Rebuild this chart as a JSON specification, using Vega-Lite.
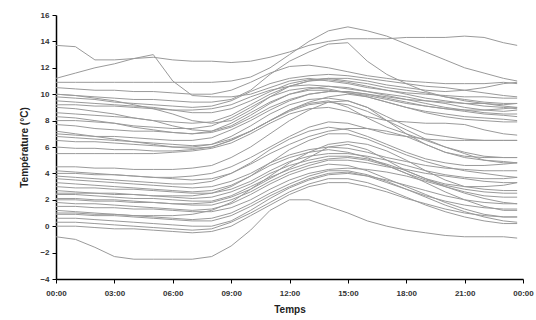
{
"$schema": "https://vega.github.io/schema/vega-lite/v6.json",
"width": 467, "height": 264,
"autosize": {"type": "none"},
"padding": {"left": 56, "top": 15, "right": 13, "bottom": 41},
"background": "white",
"config": {"view": {"stroke": null}},
"data": {"values": [
{"s":1,"t":0,"v":13.7},{"s":1,"t":1,"v":13.6},{"s":1,"t":2,"v":12.6},{"s":1,"t":3,"v":12.6},{"s":1,"t":4,"v":12.7},{"s":1,"t":5,"v":12.8},{"s":1,"t":6,"v":12.6},{"s":1,"t":7,"v":12.5},{"s":1,"t":8,"v":12.5},{"s":1,"t":9,"v":12.4},{"s":1,"t":10,"v":12.5},{"s":1,"t":11,"v":12.8},{"s":1,"t":12,"v":13.2},{"s":1,"t":13,"v":13.7},{"s":1,"t":14,"v":14.0},{"s":1,"t":15,"v":14.2},{"s":1,"t":16,"v":14.2},{"s":1,"t":17,"v":14.2},{"s":1,"t":18,"v":14.3},{"s":1,"t":19,"v":14.3},{"s":1,"t":20,"v":14.3},{"s":1,"t":21,"v":14.4},{"s":1,"t":22,"v":14.3},{"s":1,"t":23,"v":13.9},{"s":1,"t":23.7,"v":13.7},
{"s":2,"t":0,"v":11.2},{"s":2,"t":1,"v":11.6},{"s":2,"t":2,"v":12.0},{"s":2,"t":3,"v":12.3},{"s":2,"t":4,"v":12.7},{"s":2,"t":5,"v":13.0},{"s":2,"t":6,"v":11.0},{"s":2,"t":7,"v":9.9},{"s":2,"t":8,"v":9.8},{"s":2,"t":9,"v":9.8},{"s":2,"t":10,"v":10.0},{"s":2,"t":11,"v":10.5},{"s":2,"t":12,"v":11.0},{"s":2,"t":13,"v":11.2},{"s":2,"t":14,"v":11.0},{"s":2,"t":15,"v":10.8},{"s":2,"t":16,"v":10.5},{"s":2,"t":17,"v":10.3},{"s":2,"t":18,"v":10.1},{"s":2,"t":19,"v":10.0},{"s":2,"t":20,"v":9.9},{"s":2,"t":21,"v":9.8},{"s":2,"t":22,"v":9.8},{"s":2,"t":23,"v":9.7},{"s":2,"t":23.7,"v":9.7},
{"s":3,"t":0,"v":10.9},{"s":3,"t":1,"v":10.9},{"s":3,"t":2,"v":10.9},{"s":3,"t":3,"v":10.9},{"s":3,"t":4,"v":10.9},{"s":3,"t":5,"v":10.9},{"s":3,"t":6,"v":10.9},{"s":3,"t":7,"v":10.9},{"s":3,"t":8,"v":10.9},{"s":3,"t":9,"v":11.0},{"s":3,"t":10,"v":11.3},{"s":3,"t":11,"v":12.0},{"s":3,"t":12,"v":13.0},{"s":3,"t":13,"v":14.0},{"s":3,"t":14,"v":14.8},{"s":3,"t":15,"v":15.1},{"s":3,"t":16,"v":14.8},{"s":3,"t":17,"v":14.4},{"s":3,"t":18,"v":13.8},{"s":3,"t":19,"v":13.2},{"s":3,"t":20,"v":12.6},{"s":3,"t":21,"v":12.0},{"s":3,"t":22,"v":11.6},{"s":3,"t":23,"v":11.2},{"s":3,"t":23.7,"v":11.0},
{"s":4,"t":0,"v":10.0},{"s":4,"t":1,"v":9.9},{"s":4,"t":2,"v":9.8},{"s":4,"t":3,"v":9.7},{"s":4,"t":4,"v":9.6},{"s":4,"t":5,"v":9.6},{"s":4,"t":6,"v":9.5},{"s":4,"t":7,"v":9.4},{"s":4,"t":8,"v":9.4},{"s":4,"t":9,"v":9.6},{"s":4,"t":10,"v":10.3},{"s":4,"t":11,"v":11.5},{"s":4,"t":12,"v":12.5},{"s":4,"t":13,"v":13.2},{"s":4,"t":14,"v":13.8},{"s":4,"t":15,"v":13.9},{"s":4,"t":16,"v":12.5},{"s":4,"t":17,"v":11.5},{"s":4,"t":18,"v":10.8},{"s":4,"t":19,"v":10.2},{"s":4,"t":20,"v":9.8},{"s":4,"t":21,"v":9.5},{"s":4,"t":22,"v":9.3},{"s":4,"t":23,"v":9.1},{"s":4,"t":23.7,"v":9.0},
{"s":5,"t":0,"v":9.8},{"s":5,"t":1,"v":9.7},{"s":5,"t":2,"v":9.6},{"s":5,"t":3,"v":9.4},{"s":5,"t":4,"v":9.3},{"s":5,"t":5,"v":9.2},{"s":5,"t":6,"v":9.1},{"s":5,"t":7,"v":9.0},{"s":5,"t":8,"v":9.1},{"s":5,"t":9,"v":9.5},{"s":5,"t":10,"v":10.2},{"s":5,"t":11,"v":10.8},{"s":5,"t":12,"v":11.2},{"s":5,"t":13,"v":11.4},{"s":5,"t":14,"v":11.5},{"s":5,"t":15,"v":11.4},{"s":5,"t":16,"v":11.2},{"s":5,"t":17,"v":11.0},{"s":5,"t":18,"v":10.8},{"s":5,"t":19,"v":10.6},{"s":5,"t":20,"v":10.5},{"s":5,"t":21,"v":10.3},{"s":5,"t":22,"v":10.1},{"s":5,"t":23,"v":9.9},{"s":5,"t":23.7,"v":9.8},
{"s":6,"t":0,"v":9.5},{"s":6,"t":1,"v":9.4},{"s":6,"t":2,"v":9.3},{"s":6,"t":3,"v":9.2},{"s":6,"t":4,"v":9.1},{"s":6,"t":5,"v":9.0},{"s":6,"t":6,"v":8.8},{"s":6,"t":7,"v":8.6},{"s":6,"t":8,"v":8.6},{"s":6,"t":9,"v":8.9},{"s":6,"t":10,"v":9.5},{"s":6,"t":11,"v":10.2},{"s":6,"t":12,"v":10.8},{"s":6,"t":13,"v":11.1},{"s":6,"t":14,"v":11.2},{"s":6,"t":15,"v":11.0},{"s":6,"t":16,"v":10.8},{"s":6,"t":17,"v":10.5},{"s":6,"t":18,"v":10.3},{"s":6,"t":19,"v":10.1},{"s":6,"t":20,"v":9.8},{"s":6,"t":21,"v":9.6},{"s":6,"t":22,"v":9.4},{"s":6,"t":23,"v":9.3},{"s":6,"t":23.7,"v":9.3},
{"s":7,"t":0,"v":9.2},{"s":7,"t":1,"v":9.2},{"s":7,"t":2,"v":9.1},{"s":7,"t":3,"v":9.1},{"s":7,"t":4,"v":9.0},{"s":7,"t":5,"v":8.9},{"s":7,"t":6,"v":8.8},{"s":7,"t":7,"v":8.8},{"s":7,"t":8,"v":8.9},{"s":7,"t":9,"v":9.2},{"s":7,"t":10,"v":9.8},{"s":7,"t":11,"v":10.3},{"s":7,"t":12,"v":10.6},{"s":7,"t":13,"v":10.7},{"s":7,"t":14,"v":10.6},{"s":7,"t":15,"v":10.4},{"s":7,"t":16,"v":10.2},{"s":7,"t":17,"v":10.0},{"s":7,"t":18,"v":9.8},{"s":7,"t":19,"v":9.5},{"s":7,"t":20,"v":9.3},{"s":7,"t":21,"v":9.0},{"s":7,"t":22,"v":8.8},{"s":7,"t":23,"v":8.7},{"s":7,"t":23.7,"v":8.8},
{"s":8,"t":0,"v":8.6},{"s":8,"t":1,"v":8.5},{"s":8,"t":2,"v":8.4},{"s":8,"t":3,"v":8.3},{"s":8,"t":4,"v":8.2},{"s":8,"t":5,"v":8.0},{"s":8,"t":6,"v":7.9},{"s":8,"t":7,"v":7.8},{"s":8,"t":8,"v":7.9},{"s":8,"t":9,"v":8.4},{"s":8,"t":10,"v":9.2},{"s":8,"t":11,"v":10.0},{"s":8,"t":12,"v":10.6},{"s":8,"t":13,"v":11.0},{"s":8,"t":14,"v":11.2},{"s":8,"t":15,"v":11.2},{"s":8,"t":16,"v":11.0},{"s":8,"t":17,"v":10.7},{"s":8,"t":18,"v":10.5},{"s":8,"t":19,"v":10.3},{"s":8,"t":20,"v":10.2},{"s":8,"t":21,"v":10.3},{"s":8,"t":22,"v":10.5},{"s":8,"t":23,"v":10.8},{"s":8,"t":23.7,"v":10.9},
{"s":9,"t":0,"v":8.0},{"s":9,"t":1,"v":8.0},{"s":9,"t":2,"v":7.9},{"s":9,"t":3,"v":7.8},{"s":9,"t":4,"v":7.6},{"s":9,"t":5,"v":7.5},{"s":9,"t":6,"v":7.4},{"s":9,"t":7,"v":7.4},{"s":9,"t":8,"v":7.6},{"s":9,"t":9,"v":8.2},{"s":9,"t":10,"v":9.0},{"s":9,"t":11,"v":9.8},{"s":9,"t":12,"v":10.3},{"s":9,"t":13,"v":10.5},{"s":9,"t":14,"v":10.4},{"s":9,"t":15,"v":10.1},{"s":9,"t":16,"v":9.8},{"s":9,"t":17,"v":9.4},{"s":9,"t":18,"v":9.0},{"s":9,"t":19,"v":8.7},{"s":9,"t":20,"v":8.5},{"s":9,"t":21,"v":8.3},{"s":9,"t":22,"v":8.2},{"s":9,"t":23,"v":8.1},{"s":9,"t":23.7,"v":8.0},
{"s":10,"t":0,"v":7.7},{"s":10,"t":1,"v":7.6},{"s":10,"t":2,"v":7.4},{"s":10,"t":3,"v":7.3},{"s":10,"t":4,"v":7.2},{"s":10,"t":5,"v":7.2},{"s":10,"t":6,"v":7.1},{"s":10,"t":7,"v":7.0},{"s":10,"t":8,"v":7.2},{"s":10,"t":9,"v":7.8},{"s":10,"t":10,"v":8.6},{"s":10,"t":11,"v":9.4},{"s":10,"t":12,"v":10.0},{"s":10,"t":13,"v":10.3},{"s":10,"t":14,"v":10.3},{"s":10,"t":15,"v":10.1},{"s":10,"t":16,"v":9.9},{"s":10,"t":17,"v":9.6},{"s":10,"t":18,"v":9.3},{"s":10,"t":19,"v":9.1},{"s":10,"t":20,"v":8.9},{"s":10,"t":21,"v":8.7},{"s":10,"t":22,"v":8.5},{"s":10,"t":23,"v":8.4},{"s":10,"t":23.7,"v":8.3},
{"s":11,"t":0,"v":7.0},{"s":11,"t":1,"v":6.9},{"s":11,"t":2,"v":6.8},{"s":11,"t":3,"v":6.8},{"s":11,"t":4,"v":6.7},{"s":11,"t":5,"v":6.6},{"s":11,"t":6,"v":6.5},{"s":11,"t":7,"v":6.5},{"s":11,"t":8,"v":6.7},{"s":11,"t":9,"v":7.3},{"s":11,"t":10,"v":8.0},{"s":11,"t":11,"v":8.8},{"s":11,"t":12,"v":9.5},{"s":11,"t":13,"v":10.0},{"s":11,"t":14,"v":10.2},{"s":11,"t":15,"v":10.2},{"s":11,"t":16,"v":10.0},{"s":11,"t":17,"v":9.8},{"s":11,"t":18,"v":9.6},{"s":11,"t":19,"v":9.5},{"s":11,"t":20,"v":9.4},{"s":11,"t":21,"v":9.3},{"s":11,"t":22,"v":9.3},{"s":11,"t":23,"v":9.2},{"s":11,"t":23.7,"v":9.3},
{"s":12,"t":0,"v":6.5},{"s":12,"t":1,"v":6.4},{"s":12,"t":2,"v":6.4},{"s":12,"t":3,"v":6.3},{"s":12,"t":4,"v":6.2},{"s":12,"t":5,"v":6.1},{"s":12,"t":6,"v":6.0},{"s":12,"t":7,"v":6.0},{"s":12,"t":8,"v":6.2},{"s":12,"t":9,"v":6.8},{"s":12,"t":10,"v":7.6},{"s":12,"t":11,"v":8.5},{"s":12,"t":12,"v":9.2},{"s":12,"t":13,"v":9.6},{"s":12,"t":14,"v":9.7},{"s":12,"t":15,"v":9.5},{"s":12,"t":16,"v":9.0},{"s":12,"t":17,"v":8.3},{"s":12,"t":18,"v":7.6},{"s":12,"t":19,"v":7.0},{"s":12,"t":20,"v":6.8},{"s":12,"t":21,"v":6.6},{"s":12,"t":22,"v":6.5},{"s":12,"t":23,"v":6.5},{"s":12,"t":23.7,"v":6.5},
{"s":13,"t":0,"v":6.0},{"s":13,"t":1,"v":5.9},{"s":13,"t":2,"v":5.9},{"s":13,"t":3,"v":5.8},{"s":13,"t":4,"v":5.8},{"s":13,"t":5,"v":5.7},{"s":13,"t":6,"v":5.7},{"s":13,"t":7,"v":5.8},{"s":13,"t":8,"v":6.0},{"s":13,"t":9,"v":6.5},{"s":13,"t":10,"v":7.2},{"s":13,"t":11,"v":8.0},{"s":13,"t":12,"v":8.8},{"s":13,"t":13,"v":9.3},{"s":13,"t":14,"v":9.5},{"s":13,"t":15,"v":9.0},{"s":13,"t":16,"v":8.2},{"s":13,"t":17,"v":7.5},{"s":13,"t":18,"v":7.0},{"s":13,"t":19,"v":6.5},{"s":13,"t":20,"v":6.0},{"s":13,"t":21,"v":5.6},{"s":13,"t":22,"v":5.3},{"s":13,"t":23,"v":5.2},{"s":13,"t":23.7,"v":5.2},
{"s":14,"t":0,"v":5.5},{"s":14,"t":1,"v":5.5},{"s":14,"t":2,"v":5.5},{"s":14,"t":3,"v":5.5},{"s":14,"t":4,"v":5.5},{"s":14,"t":5,"v":5.5},{"s":14,"t":6,"v":5.6},{"s":14,"t":7,"v":5.7},{"s":14,"t":8,"v":5.9},{"s":14,"t":9,"v":6.3},{"s":14,"t":10,"v":7.0},{"s":14,"t":11,"v":7.8},{"s":14,"t":12,"v":8.5},{"s":14,"t":13,"v":8.9},{"s":14,"t":14,"v":9.0},{"s":14,"t":15,"v":8.7},{"s":14,"t":16,"v":8.3},{"s":14,"t":17,"v":8.0},{"s":14,"t":18,"v":7.9},{"s":14,"t":19,"v":7.8},{"s":14,"t":20,"v":7.8},{"s":14,"t":21,"v":7.7},{"s":14,"t":22,"v":7.3},{"s":14,"t":23,"v":7.0},{"s":14,"t":23.7,"v":6.9},
{"s":15,"t":0,"v":10.0},{"s":15,"t":1,"v":9.9},{"s":15,"t":2,"v":9.7},{"s":15,"t":3,"v":9.5},{"s":15,"t":4,"v":9.2},{"s":15,"t":5,"v":8.9},{"s":15,"t":6,"v":8.5},{"s":15,"t":7,"v":8.0},{"s":15,"t":8,"v":7.8},{"s":15,"t":9,"v":8.0},{"s":15,"t":10,"v":8.8},{"s":15,"t":11,"v":9.8},{"s":15,"t":12,"v":10.6},{"s":15,"t":13,"v":11.0},{"s":15,"t":14,"v":11.1},{"s":15,"t":15,"v":10.9},{"s":15,"t":16,"v":10.6},{"s":15,"t":17,"v":10.3},{"s":15,"t":18,"v":10.0},{"s":15,"t":19,"v":9.7},{"s":15,"t":20,"v":9.5},{"s":15,"t":21,"v":9.3},{"s":15,"t":22,"v":9.1},{"s":15,"t":23,"v":9.0},{"s":15,"t":23.7,"v":8.9},
{"s":16,"t":0,"v":9.0},{"s":16,"t":1,"v":8.9},{"s":16,"t":2,"v":8.7},{"s":16,"t":3,"v":8.5},{"s":16,"t":4,"v":8.2},{"s":16,"t":5,"v":8.0},{"s":16,"t":6,"v":7.6},{"s":16,"t":7,"v":7.3},{"s":16,"t":8,"v":7.2},{"s":16,"t":9,"v":7.6},{"s":16,"t":10,"v":8.4},{"s":16,"t":11,"v":9.3},{"s":16,"t":12,"v":10.0},{"s":16,"t":13,"v":10.4},{"s":16,"t":14,"v":10.6},{"s":16,"t":15,"v":10.5},{"s":16,"t":16,"v":10.2},{"s":16,"t":17,"v":9.9},{"s":16,"t":18,"v":9.6},{"s":16,"t":19,"v":9.3},{"s":16,"t":20,"v":9.0},{"s":16,"t":21,"v":8.8},{"s":16,"t":22,"v":8.6},{"s":16,"t":23,"v":8.5},{"s":16,"t":23.7,"v":8.5},
{"s":17,"t":0,"v":8.3},{"s":17,"t":1,"v":8.2},{"s":17,"t":2,"v":8.0},{"s":17,"t":3,"v":7.8},{"s":17,"t":4,"v":7.5},{"s":17,"t":5,"v":7.3},{"s":17,"t":6,"v":7.1},{"s":17,"t":7,"v":7.0},{"s":17,"t":8,"v":7.1},{"s":17,"t":9,"v":7.5},{"s":17,"t":10,"v":8.2},{"s":17,"t":11,"v":9.0},{"s":17,"t":12,"v":9.6},{"s":17,"t":13,"v":10.0},{"s":17,"t":14,"v":10.2},{"s":17,"t":15,"v":10.2},{"s":17,"t":16,"v":10.0},{"s":17,"t":17,"v":9.7},{"s":17,"t":18,"v":9.4},{"s":17,"t":19,"v":9.1},{"s":17,"t":20,"v":8.9},{"s":17,"t":21,"v":8.8},{"s":17,"t":22,"v":8.8},{"s":17,"t":23,"v":8.9},{"s":17,"t":23.7,"v":9.0},
{"s":18,"t":0,"v":10.5},{"s":18,"t":1,"v":10.4},{"s":18,"t":2,"v":10.3},{"s":18,"t":3,"v":10.3},{"s":18,"t":4,"v":10.2},{"s":18,"t":5,"v":10.2},{"s":18,"t":6,"v":10.1},{"s":18,"t":7,"v":10.0},{"s":18,"t":8,"v":10.0},{"s":18,"t":9,"v":10.3},{"s":18,"t":10,"v":10.9},{"s":18,"t":11,"v":11.6},{"s":18,"t":12,"v":12.1},{"s":18,"t":13,"v":12.2},{"s":18,"t":14,"v":12.0},{"s":18,"t":15,"v":11.7},{"s":18,"t":16,"v":11.4},{"s":18,"t":17,"v":11.2},{"s":18,"t":18,"v":11.0},{"s":18,"t":19,"v":10.9},{"s":18,"t":20,"v":10.8},{"s":18,"t":21,"v":10.8},{"s":18,"t":22,"v":10.8},{"s":18,"t":23,"v":10.9},{"s":18,"t":23.7,"v":10.8},
{"s":19,"t":0,"v":4.5},{"s":19,"t":1,"v":4.5},{"s":19,"t":2,"v":4.4},{"s":19,"t":3,"v":4.4},{"s":19,"t":4,"v":4.3},{"s":19,"t":5,"v":4.3},{"s":19,"t":6,"v":4.3},{"s":19,"t":7,"v":4.4},{"s":19,"t":8,"v":4.6},{"s":19,"t":9,"v":5.2},{"s":19,"t":10,"v":6.0},{"s":19,"t":11,"v":7.0},{"s":19,"t":12,"v":8.0},{"s":19,"t":13,"v":8.8},{"s":19,"t":14,"v":9.4},{"s":19,"t":15,"v":9.5},{"s":19,"t":16,"v":9.0},{"s":19,"t":17,"v":8.0},{"s":19,"t":18,"v":7.0},{"s":19,"t":19,"v":6.2},{"s":19,"t":20,"v":5.6},{"s":19,"t":21,"v":5.2},{"s":19,"t":22,"v":5.0},{"s":19,"t":23,"v":4.9},{"s":19,"t":23.7,"v":4.8},
{"s":20,"t":0,"v":4.0},{"s":20,"t":1,"v":4.0},{"s":20,"t":2,"v":3.9},{"s":20,"t":3,"v":3.9},{"s":20,"t":4,"v":3.8},{"s":20,"t":5,"v":3.7},{"s":20,"t":6,"v":3.7},{"s":20,"t":7,"v":3.8},{"s":20,"t":8,"v":4.0},{"s":20,"t":9,"v":4.5},{"s":20,"t":10,"v":5.2},{"s":20,"t":11,"v":6.0},{"s":20,"t":12,"v":6.8},{"s":20,"t":13,"v":7.5},{"s":20,"t":14,"v":7.9},{"s":20,"t":15,"v":7.8},{"s":20,"t":16,"v":7.4},{"s":20,"t":17,"v":7.0},{"s":20,"t":18,"v":6.8},{"s":20,"t":19,"v":6.6},{"s":20,"t":20,"v":6.5},{"s":20,"t":21,"v":6.5},{"s":20,"t":22,"v":6.5},{"s":20,"t":23,"v":6.5},{"s":20,"t":23.7,"v":6.5},
{"s":21,"t":0,"v":3.6},{"s":21,"t":1,"v":3.5},{"s":21,"t":2,"v":3.4},{"s":21,"t":3,"v":3.3},{"s":21,"t":4,"v":3.2},{"s":21,"t":5,"v":3.1},{"s":21,"t":6,"v":3.0},{"s":21,"t":7,"v":2.9},{"s":21,"t":8,"v":3.0},{"s":21,"t":9,"v":3.4},{"s":21,"t":10,"v":4.0},{"s":21,"t":11,"v":4.8},{"s":21,"t":12,"v":5.4},{"s":21,"t":13,"v":5.8},{"s":21,"t":14,"v":6.0},{"s":21,"t":15,"v":5.9},{"s":21,"t":16,"v":5.6},{"s":21,"t":17,"v":5.2},{"s":21,"t":18,"v":4.9},{"s":21,"t":19,"v":4.6},{"s":21,"t":20,"v":4.4},{"s":21,"t":21,"v":4.3},{"s":21,"t":22,"v":4.2},{"s":21,"t":23,"v":4.2},{"s":21,"t":23.7,"v":4.2},
{"s":22,"t":0,"v":3.3},{"s":22,"t":1,"v":3.2},{"s":22,"t":2,"v":3.1},{"s":22,"t":3,"v":3.0},{"s":22,"t":4,"v":2.9},{"s":22,"t":5,"v":2.8},{"s":22,"t":6,"v":2.7},{"s":22,"t":7,"v":2.6},{"s":22,"t":8,"v":2.7},{"s":22,"t":9,"v":3.1},{"s":22,"t":10,"v":3.8},{"s":22,"t":11,"v":4.6},{"s":22,"t":12,"v":5.2},{"s":22,"t":13,"v":5.6},{"s":22,"t":14,"v":5.8},{"s":22,"t":15,"v":5.6},{"s":22,"t":16,"v":5.2},{"s":22,"t":17,"v":4.6},{"s":22,"t":18,"v":4.0},{"s":22,"t":19,"v":3.5},{"s":22,"t":20,"v":3.1},{"s":22,"t":21,"v":2.8},{"s":22,"t":22,"v":2.6},{"s":22,"t":23,"v":2.5},{"s":22,"t":23.7,"v":2.5},
{"s":23,"t":0,"v":3.0},{"s":23,"t":1,"v":2.9},{"s":23,"t":2,"v":2.9},{"s":23,"t":3,"v":2.8},{"s":23,"t":4,"v":2.8},{"s":23,"t":5,"v":2.7},{"s":23,"t":6,"v":2.6},{"s":23,"t":7,"v":2.5},{"s":23,"t":8,"v":2.5},{"s":23,"t":9,"v":2.8},{"s":23,"t":10,"v":3.4},{"s":23,"t":11,"v":4.2},{"s":23,"t":12,"v":4.9},{"s":23,"t":13,"v":5.3},{"s":23,"t":14,"v":5.5},{"s":23,"t":15,"v":5.5},{"s":23,"t":16,"v":5.3},{"s":23,"t":17,"v":5.0},{"s":23,"t":18,"v":4.6},{"s":23,"t":19,"v":4.2},{"s":23,"t":20,"v":3.9},{"s":23,"t":21,"v":3.7},{"s":23,"t":22,"v":3.6},{"s":23,"t":23,"v":3.6},{"s":23,"t":23.7,"v":3.7},
{"s":24,"t":0,"v":2.7},{"s":24,"t":1,"v":2.6},{"s":24,"t":2,"v":2.5},{"s":24,"t":3,"v":2.5},{"s":24,"t":4,"v":2.4},{"s":24,"t":5,"v":2.3},{"s":24,"t":6,"v":2.2},{"s":24,"t":7,"v":2.1},{"s":24,"t":8,"v":2.2},{"s":24,"t":9,"v":2.6},{"s":24,"t":10,"v":3.2},{"s":24,"t":11,"v":4.0},{"s":24,"t":12,"v":4.6},{"s":24,"t":13,"v":5.0},{"s":24,"t":14,"v":5.3},{"s":24,"t":15,"v":5.3},{"s":24,"t":16,"v":5.1},{"s":24,"t":17,"v":4.7},{"s":24,"t":18,"v":4.2},{"s":24,"t":19,"v":3.6},{"s":24,"t":20,"v":3.0},{"s":24,"t":21,"v":2.5},{"s":24,"t":22,"v":2.1},{"s":24,"t":23,"v":1.8},{"s":24,"t":23.7,"v":1.7},
{"s":25,"t":0,"v":2.4},{"s":25,"t":1,"v":2.4},{"s":25,"t":2,"v":2.3},{"s":25,"t":3,"v":2.2},{"s":25,"t":4,"v":2.1},{"s":25,"t":5,"v":2.1},{"s":25,"t":6,"v":2.0},{"s":25,"t":7,"v":1.9},{"s":25,"t":8,"v":1.9},{"s":25,"t":9,"v":2.3},{"s":25,"t":10,"v":3.0},{"s":25,"t":11,"v":3.7},{"s":25,"t":12,"v":4.3},{"s":25,"t":13,"v":4.8},{"s":25,"t":14,"v":5.1},{"s":25,"t":15,"v":5.2},{"s":25,"t":16,"v":5.0},{"s":25,"t":17,"v":4.6},{"s":25,"t":18,"v":4.0},{"s":25,"t":19,"v":3.3},{"s":25,"t":20,"v":2.6},{"s":25,"t":21,"v":2.0},{"s":25,"t":22,"v":1.5},{"s":25,"t":23,"v":1.2},{"s":25,"t":23.7,"v":1.2},
{"s":26,"t":0,"v":2.1},{"s":26,"t":1,"v":2.1},{"s":26,"t":2,"v":2.0},{"s":26,"t":3,"v":2.0},{"s":26,"t":4,"v":1.9},{"s":26,"t":5,"v":1.8},{"s":26,"t":6,"v":1.7},{"s":26,"t":7,"v":1.6},{"s":26,"t":8,"v":1.6},{"s":26,"t":9,"v":2.0},{"s":26,"t":10,"v":2.6},{"s":26,"t":11,"v":3.4},{"s":26,"t":12,"v":4.1},{"s":26,"t":13,"v":4.6},{"s":26,"t":14,"v":5.0},{"s":26,"t":15,"v":5.0},{"s":26,"t":16,"v":4.8},{"s":26,"t":17,"v":4.5},{"s":26,"t":18,"v":4.3},{"s":26,"t":19,"v":4.0},{"s":26,"t":20,"v":3.8},{"s":26,"t":21,"v":3.6},{"s":26,"t":22,"v":3.4},{"s":26,"t":23,"v":3.3},{"s":26,"t":23.7,"v":3.3},
{"s":27,"t":0,"v":1.8},{"s":27,"t":1,"v":1.7},{"s":27,"t":2,"v":1.7},{"s":27,"t":3,"v":1.6},{"s":27,"t":4,"v":1.5},{"s":27,"t":5,"v":1.4},{"s":27,"t":6,"v":1.3},{"s":27,"t":7,"v":1.2},{"s":27,"t":8,"v":1.3},{"s":27,"t":9,"v":1.7},{"s":27,"t":10,"v":2.4},{"s":27,"t":11,"v":3.2},{"s":27,"t":12,"v":3.9},{"s":27,"t":13,"v":4.4},{"s":27,"t":14,"v":4.7},{"s":27,"t":15,"v":4.6},{"s":27,"t":16,"v":4.2},{"s":27,"t":17,"v":3.6},{"s":27,"t":18,"v":3.0},{"s":27,"t":19,"v":2.4},{"s":27,"t":20,"v":1.8},{"s":27,"t":21,"v":1.3},{"s":27,"t":22,"v":0.9},{"s":27,"t":23,"v":0.7},{"s":27,"t":23.7,"v":0.7},
{"s":28,"t":0,"v":1.5},{"s":28,"t":1,"v":1.5},{"s":28,"t":2,"v":1.4},{"s":28,"t":3,"v":1.4},{"s":28,"t":4,"v":1.3},{"s":28,"t":5,"v":1.3},{"s":28,"t":6,"v":1.2},{"s":28,"t":7,"v":1.1},{"s":28,"t":8,"v":1.1},{"s":28,"t":9,"v":1.4},{"s":28,"t":10,"v":2.0},{"s":28,"t":11,"v":2.8},{"s":28,"t":12,"v":3.5},{"s":28,"t":13,"v":4.0},{"s":28,"t":14,"v":4.3},{"s":28,"t":15,"v":4.4},{"s":28,"t":16,"v":4.3},{"s":28,"t":17,"v":4.1},{"s":28,"t":18,"v":3.8},{"s":28,"t":19,"v":3.4},{"s":28,"t":20,"v":3.0},{"s":28,"t":21,"v":2.6},{"s":28,"t":22,"v":2.3},{"s":28,"t":23,"v":2.2},{"s":28,"t":23.7,"v":2.2},
{"s":29,"t":0,"v":1.2},{"s":29,"t":1,"v":1.1},{"s":29,"t":2,"v":1.0},{"s":29,"t":3,"v":0.9},{"s":29,"t":4,"v":0.8},{"s":29,"t":5,"v":0.7},{"s":29,"t":6,"v":0.6},{"s":29,"t":7,"v":0.5},{"s":29,"t":8,"v":0.6},{"s":29,"t":9,"v":1.0},{"s":29,"t":10,"v":1.7},{"s":29,"t":11,"v":2.5},{"s":29,"t":12,"v":3.2},{"s":29,"t":13,"v":3.8},{"s":29,"t":14,"v":4.2},{"s":29,"t":15,"v":4.2},{"s":29,"t":16,"v":3.9},{"s":29,"t":17,"v":3.4},{"s":29,"t":18,"v":2.8},{"s":29,"t":19,"v":2.2},{"s":29,"t":20,"v":1.6},{"s":29,"t":21,"v":1.1},{"s":29,"t":22,"v":0.7},{"s":29,"t":23,"v":0.4},{"s":29,"t":23.7,"v":0.3},
{"s":30,"t":0,"v":0.9},{"s":30,"t":1,"v":0.9},{"s":30,"t":2,"v":0.8},{"s":30,"t":3,"v":0.8},{"s":30,"t":4,"v":0.7},{"s":30,"t":5,"v":0.6},{"s":30,"t":6,"v":0.5},{"s":30,"t":7,"v":0.4},{"s":30,"t":8,"v":0.4},{"s":30,"t":9,"v":0.8},{"s":30,"t":10,"v":1.5},{"s":30,"t":11,"v":2.3},{"s":30,"t":12,"v":3.0},{"s":30,"t":13,"v":3.6},{"s":30,"t":14,"v":4.0},{"s":30,"t":15,"v":4.1},{"s":30,"t":16,"v":3.8},{"s":30,"t":17,"v":3.3},{"s":30,"t":18,"v":2.8},{"s":30,"t":19,"v":2.3},{"s":30,"t":20,"v":1.9},{"s":30,"t":21,"v":1.6},{"s":30,"t":22,"v":1.4},{"s":30,"t":23,"v":1.3},{"s":30,"t":23.7,"v":1.3},
{"s":31,"t":0,"v":0.6},{"s":31,"t":1,"v":0.6},{"s":31,"t":2,"v":0.5},{"s":31,"t":3,"v":0.4},{"s":31,"t":4,"v":0.3},{"s":31,"t":5,"v":0.2},{"s":31,"t":6,"v":0.1},{"s":31,"t":7,"v":0.0},{"s":31,"t":8,"v":0.0},{"s":31,"t":9,"v":0.4},{"s":31,"t":10,"v":1.2},{"s":31,"t":11,"v":2.1},{"s":31,"t":12,"v":2.9},{"s":31,"t":13,"v":3.5},{"s":31,"t":14,"v":3.9},{"s":31,"t":15,"v":4.0},{"s":31,"t":16,"v":3.8},{"s":31,"t":17,"v":3.5},{"s":31,"t":18,"v":3.1},{"s":31,"t":19,"v":2.7},{"s":31,"t":20,"v":2.3},{"s":31,"t":21,"v":2.0},{"s":31,"t":22,"v":1.8},{"s":31,"t":23,"v":1.7},{"s":31,"t":23.7,"v":1.7},
{"s":32,"t":0,"v":0.3},{"s":32,"t":1,"v":0.3},{"s":32,"t":2,"v":0.2},{"s":32,"t":3,"v":0.1},{"s":32,"t":4,"v":0.0},{"s":32,"t":5,"v":-0.1},{"s":32,"t":6,"v":-0.2},{"s":32,"t":7,"v":-0.3},{"s":32,"t":8,"v":-0.2},{"s":32,"t":9,"v":0.3},{"s":32,"t":10,"v":1.0},{"s":32,"t":11,"v":1.8},{"s":32,"t":12,"v":2.6},{"s":32,"t":13,"v":3.2},{"s":32,"t":14,"v":3.6},{"s":32,"t":15,"v":3.6},{"s":32,"t":16,"v":3.3},{"s":32,"t":17,"v":2.8},{"s":32,"t":18,"v":2.2},{"s":32,"t":19,"v":1.6},{"s":32,"t":20,"v":1.1},{"s":32,"t":21,"v":0.7},{"s":32,"t":22,"v":0.4},{"s":32,"t":23,"v":0.2},{"s":32,"t":23.7,"v":0.2},
{"s":33,"t":0,"v":0.0},{"s":33,"t":1,"v":0.0},{"s":33,"t":2,"v":-0.1},{"s":33,"t":3,"v":-0.2},{"s":33,"t":4,"v":-0.2},{"s":33,"t":5,"v":-0.3},{"s":33,"t":6,"v":-0.4},{"s":33,"t":7,"v":-0.5},{"s":33,"t":8,"v":-0.4},{"s":33,"t":9,"v":0.0},{"s":33,"t":10,"v":0.8},{"s":33,"t":11,"v":1.6},{"s":33,"t":12,"v":2.4},{"s":33,"t":13,"v":3.0},{"s":33,"t":14,"v":3.3},{"s":33,"t":15,"v":3.3},{"s":33,"t":16,"v":3.0},{"s":33,"t":17,"v":2.6},{"s":33,"t":18,"v":2.1},{"s":33,"t":19,"v":1.7},{"s":33,"t":20,"v":1.3},{"s":33,"t":21,"v":1.0},{"s":33,"t":22,"v":0.8},{"s":33,"t":23,"v":0.7},{"s":33,"t":23.7,"v":0.7},
{"s":34,"t":0,"v":-0.8},{"s":34,"t":1,"v":-1.0},{"s":34,"t":2,"v":-1.6},{"s":34,"t":3,"v":-2.3},{"s":34,"t":4,"v":-2.5},{"s":34,"t":5,"v":-2.5},{"s":34,"t":6,"v":-2.5},{"s":34,"t":7,"v":-2.5},{"s":34,"t":8,"v":-2.3},{"s":34,"t":9,"v":-1.5},{"s":34,"t":10,"v":-0.3},{"s":34,"t":11,"v":1.2},{"s":34,"t":12,"v":2.0},{"s":34,"t":13,"v":2.0},{"s":34,"t":14,"v":1.5},{"s":34,"t":15,"v":1.0},{"s":34,"t":16,"v":0.4},{"s":34,"t":17,"v":0.0},{"s":34,"t":18,"v":-0.3},{"s":34,"t":19,"v":-0.5},{"s":34,"t":20,"v":-0.7},{"s":34,"t":21,"v":-0.8},{"s":34,"t":22,"v":-0.8},{"s":34,"t":23,"v":-0.8},{"s":34,"t":23.7,"v":-0.9},
{"s":35,"t":0,"v":3.8},{"s":35,"t":1,"v":3.7},{"s":35,"t":2,"v":3.6},{"s":35,"t":3,"v":3.5},{"s":35,"t":4,"v":3.4},{"s":35,"t":5,"v":3.3},{"s":35,"t":6,"v":3.2},{"s":35,"t":7,"v":3.2},{"s":35,"t":8,"v":3.4},{"s":35,"t":9,"v":4.0},{"s":35,"t":10,"v":4.8},{"s":35,"t":11,"v":5.8},{"s":35,"t":12,"v":6.6},{"s":35,"t":13,"v":7.2},{"s":35,"t":14,"v":7.5},{"s":35,"t":15,"v":7.3},{"s":35,"t":16,"v":6.8},{"s":35,"t":17,"v":6.2},{"s":35,"t":18,"v":5.6},{"s":35,"t":19,"v":5.1},{"s":35,"t":20,"v":4.8},{"s":35,"t":21,"v":4.6},{"s":35,"t":22,"v":4.6},{"s":35,"t":23,"v":4.7},{"s":35,"t":23.7,"v":4.8},
{"s":36,"t":0,"v":2.5},{"s":36,"t":1,"v":2.5},{"s":36,"t":2,"v":2.5},{"s":36,"t":3,"v":2.4},{"s":36,"t":4,"v":2.4},{"s":36,"t":5,"v":2.3},{"s":36,"t":6,"v":2.3},{"s":36,"t":7,"v":2.3},{"s":36,"t":8,"v":2.5},{"s":36,"t":9,"v":3.0},{"s":36,"t":10,"v":3.8},{"s":36,"t":11,"v":4.8},{"s":36,"t":12,"v":5.8},{"s":36,"t":13,"v":6.5},{"s":36,"t":14,"v":7.0},{"s":36,"t":15,"v":7.0},{"s":36,"t":16,"v":6.6},{"s":36,"t":17,"v":6.0},{"s":36,"t":18,"v":5.4},{"s":36,"t":19,"v":4.9},{"s":36,"t":20,"v":4.5},{"s":36,"t":21,"v":4.2},{"s":36,"t":22,"v":4.0},{"s":36,"t":23,"v":3.8},{"s":36,"t":23.7,"v":3.7},
{"s":37,"t":0,"v":1.0},{"s":37,"t":1,"v":1.0},{"s":37,"t":2,"v":0.9},{"s":37,"t":3,"v":0.9},{"s":37,"t":4,"v":0.8},{"s":37,"t":5,"v":0.8},{"s":37,"t":6,"v":0.8},{"s":37,"t":7,"v":0.9},{"s":37,"t":8,"v":1.2},{"s":37,"t":9,"v":1.8},{"s":37,"t":10,"v":2.8},{"s":37,"t":11,"v":3.8},{"s":37,"t":12,"v":4.8},{"s":37,"t":13,"v":5.6},{"s":37,"t":14,"v":6.2},{"s":37,"t":15,"v":6.4},{"s":37,"t":16,"v":6.2},{"s":37,"t":17,"v":5.7},{"s":37,"t":18,"v":5.0},{"s":37,"t":19,"v":4.2},{"s":37,"t":20,"v":3.5},{"s":37,"t":21,"v":3.0},{"s":37,"t":22,"v":2.8},{"s":37,"t":23,"v":2.7},{"s":37,"t":23.7,"v":2.7},
{"s":38,"t":0,"v":4.2},{"s":38,"t":1,"v":4.1},{"s":38,"t":2,"v":4.0},{"s":38,"t":3,"v":3.9},{"s":38,"t":4,"v":3.8},{"s":38,"t":5,"v":3.7},{"s":38,"t":6,"v":3.6},{"s":38,"t":7,"v":3.5},{"s":38,"t":8,"v":3.6},{"s":38,"t":9,"v":4.0},{"s":38,"t":10,"v":4.7},{"s":38,"t":11,"v":5.5},{"s":38,"t":12,"v":6.2},{"s":38,"t":13,"v":6.8},{"s":38,"t":14,"v":7.2},{"s":38,"t":15,"v":7.4},{"s":38,"t":16,"v":7.4},{"s":38,"t":17,"v":7.2},{"s":38,"t":18,"v":6.8},{"s":38,"t":19,"v":6.2},{"s":38,"t":20,"v":5.6},{"s":38,"t":21,"v":5.3},{"s":38,"t":22,"v":5.2},{"s":38,"t":23,"v":5.2},{"s":38,"t":23.7,"v":5.2},
{"s":39,"t":0,"v":2.0},{"s":39,"t":1,"v":2.0},{"s":39,"t":2,"v":1.9},{"s":39,"t":3,"v":1.9},{"s":39,"t":4,"v":1.8},{"s":39,"t":5,"v":1.8},{"s":39,"t":6,"v":1.7},{"s":39,"t":7,"v":1.7},{"s":39,"t":8,"v":1.8},{"s":39,"t":9,"v":2.2},{"s":39,"t":10,"v":2.8},{"s":39,"t":11,"v":3.6},{"s":39,"t":12,"v":4.4},{"s":39,"t":13,"v":5.2},{"s":39,"t":14,"v":6.0},{"s":39,"t":15,"v":6.2},{"s":39,"t":16,"v":5.8},{"s":39,"t":17,"v":5.0},{"s":39,"t":18,"v":4.2},{"s":39,"t":19,"v":3.6},{"s":39,"t":20,"v":3.2},{"s":39,"t":21,"v":3.0},{"s":39,"t":22,"v":3.0},{"s":39,"t":23,"v":3.1},{"s":39,"t":23.7,"v":3.3},
{"s":40,"t":0,"v":6.8},{"s":40,"t":1,"v":6.7},{"s":40,"t":2,"v":6.6},{"s":40,"t":3,"v":6.5},{"s":40,"t":4,"v":6.4},{"s":40,"t":5,"v":6.3},{"s":40,"t":6,"v":6.2},{"s":40,"t":7,"v":6.1},{"s":40,"t":8,"v":6.2},{"s":40,"t":9,"v":6.6},{"s":40,"t":10,"v":7.2},{"s":40,"t":11,"v":8.0},{"s":40,"t":12,"v":8.8},{"s":40,"t":13,"v":9.4},{"s":40,"t":14,"v":9.8},{"s":40,"t":15,"v":10.0},{"s":40,"t":16,"v":9.8},{"s":40,"t":17,"v":9.4},{"s":40,"t":18,"v":9.0},{"s":40,"t":19,"v":8.6},{"s":40,"t":20,"v":8.3},{"s":40,"t":21,"v":8.1},{"s":40,"t":22,"v":8.0},{"s":40,"t":23,"v":7.9},{"s":40,"t":23.7,"v":7.9},
{"s":41,"t":0,"v":7.2},{"s":41,"t":1,"v":7.0},{"s":41,"t":2,"v":6.8},{"s":41,"t":3,"v":6.6},{"s":41,"t":4,"v":6.4},{"s":41,"t":5,"v":6.2},{"s":41,"t":6,"v":6.0},{"s":41,"t":7,"v":5.9},{"s":41,"t":8,"v":6.0},{"s":41,"t":9,"v":6.5},{"s":41,"t":10,"v":7.2},{"s":41,"t":11,"v":8.0},{"s":41,"t":12,"v":8.7},{"s":41,"t":13,"v":9.2},{"s":41,"t":14,"v":9.4},{"s":41,"t":15,"v":9.2},{"s":41,"t":16,"v":8.7},{"s":41,"t":17,"v":8.0},{"s":41,"t":18,"v":7.3},{"s":41,"t":19,"v":6.6},{"s":41,"t":20,"v":6.0},{"s":41,"t":21,"v":5.5},{"s":41,"t":22,"v":5.0},{"s":41,"t":23,"v":4.8},{"s":41,"t":23.7,"v":4.8}
]},
"mark": {"type": "line", "color": "#9a9a9a", "strokeWidth": 1, "clip": true},
"encoding": {
  "x": {"field": "t", "type": "quantitative", "scale": {"domain": [0, 24], "nice": false, "zero": false},
    "axis": {"values": [0,3,6,9,12,15,18,21,24], "labelExpr": "(datum.value % 24 < 10 ? '0' : '') + (datum.value % 24) + ':00'",
      "title": "Temps", "grid": false, "tickSize": 4, "tickColor": "#000", "domainColor": "#000", "domainWidth": 1.5,
      "labelFlush": false, "labelFont": "Liberation Sans", "labelFontSize": 8, "labelFontWeight": "bold", "labelColor": "#333",
      "labelPadding": 6, "titleFont": "Liberation Sans", "titleFontSize": 10, "titleFontWeight": "bold", "titleColor": "#222", "titlePadding": 7}},
  "y": {"field": "v", "type": "quantitative", "scale": {"domain": [-4, 16], "nice": false},
    "axis": {"values": [-4,-2,0,2,4,6,8,10,12,14,16], "title": "Température (°C)", "grid": false, "tickSize": 4, "tickColor": "#000", "domainColor": "#000", "domainWidth": 1.5,
      "labelFont": "Liberation Sans", "labelFontSize": 8, "labelFontWeight": "bold", "labelColor": "#333", "labelPadding": 3,
      "titleFont": "Liberation Sans", "titleFontSize": 10, "titleFontWeight": "bold", "titleColor": "#222", "titlePadding": 10}},
  "detail": {"field": "s", "type": "nominal"},
  "order": {"field": "t", "type": "quantitative"}
}
}
